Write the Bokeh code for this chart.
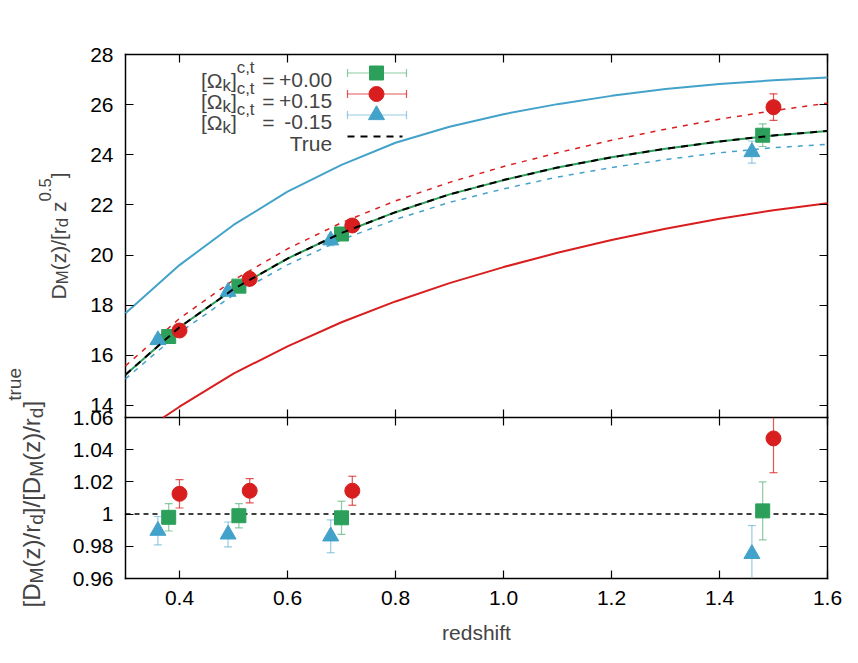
import math
from bokeh.plotting import figure
from bokeh.models import (Range1d, FixedTicker, LinearAxis, CustomJSTickFormatter, Label)
from bokeh.embed import file_html
from bokeh.resources import INLINE

# ---------------- data ----------------
z_curve = [0.3, 0.4, 0.5, 0.6, 0.7, 0.8, 0.9, 1.0, 1.1, 1.2, 1.3, 1.4, 1.5, 1.6]
true_curve = [15.23, 17.12, 18.64, 19.86, 20.88, 21.71, 22.42, 22.99, 23.49, 23.90, 24.24, 24.53, 24.77, 24.95]
fit_flat = [15.23, 17.12, 18.64, 19.86, 20.88, 21.71, 22.42, 22.99, 23.49, 23.90, 24.24, 24.53, 24.77, 24.95]
fit_pos_dashed = [15.58, 17.47, 19.00, 20.25, 21.29, 22.16, 22.90, 23.53, 24.08, 24.58, 25.02, 25.42, 25.76, 26.06]
fit_neg_dashed = [15.06, 16.91, 18.41, 19.61, 20.61, 21.42, 22.10, 22.64, 23.11, 23.49, 23.81, 24.08, 24.28, 24.42]
model_neg_solid = [17.68, 19.60, 21.20, 22.53, 23.60, 24.48, 25.12, 25.62, 26.02, 26.35, 26.62, 26.82, 26.97, 27.08]
# the lower solid curve enters the panel at z ~ 0.37
z_pos_solid = [0.37, 0.4, 0.5, 0.6, 0.7, 0.8, 0.9, 1.0, 1.1, 1.2, 1.3, 1.4, 1.5, 1.6]
model_pos_solid = [13.52, 13.95, 15.27, 16.36, 17.32, 18.15, 18.88, 19.52, 20.09, 20.60, 21.05, 21.45, 21.79, 22.07]

z_flat = [0.38, 0.51, 0.70, 1.48]
z_pos = [0.40, 0.53, 0.72, 1.50]
z_neg = [0.36, 0.49, 0.68, 1.46]

dm_flat = [16.75, 18.76, 20.84, 24.78]
dm_flat_err = [0.14, 0.14, 0.21, 0.45]
dm_pos = [16.99, 19.05, 21.18, 25.90]
dm_pos_err = [0.15, 0.14, 0.19, 0.53]
dm_neg = [16.61, 18.54, 20.59, 24.11]
dm_neg_err = [0.15, 0.14, 0.21, 0.44]

ratio_flat = [0.998, 0.999, 0.9977, 1.002]
ratio_flat_err = [0.0085, 0.0075, 0.0103, 0.018]
ratio_pos = [1.0126, 1.0145, 1.0145, 1.047]
ratio_pos_err = [0.0088, 0.0075, 0.009, 0.0213]
ratio_neg = [0.9897, 0.9874, 0.9862, 0.9753]
ratio_neg_err = [0.0088, 0.0077, 0.0102, 0.0176]
ratio_ref = 1.0

x_ticks = [0.4, 0.6, 0.8, 1.0, 1.2, 1.4, 1.6]
top_y_ticks = [14, 16, 18, 20, 22, 24, 26, 28]
bot_y_ticks = [0.96, 0.98, 1.0, 1.02, 1.04, 1.06]
legend_values = ["+0.00", "+0.15", "-0.15"]
x_title = "redshift"

# ---------------- geometry / style ----------------
FONT = "Liberation Sans"
FS = 21
FSS = 16.8
GREEN = "#2ca05a"
RED = "#d81e1e"
BLUE = "#43a2ca"

X0, X1 = 0.3, 1.6          # visible x limits of both panels
TY0, TY1 = 13.52, 28.0     # upper panel y limits
BY0, BY1 = 0.96, 1.06      # lower panel y limits
BOX_L, BOX_R = 125, 827    # page x of the panel box
BOX_T, BOX_M, BOX_B = 54, 417, 578   # page y: top, panel boundary, bottom
CANVAS_W, CANVAS_H = 845, 655

XPX = (BOX_R - BOX_L) / (X1 - X0)
TPX = (BOX_M - BOX_T) / (TY1 - TY0)
BPX = (BOX_B - BOX_M) / (BY1 - BY0)

# the drawing frame covers the whole canvas; the panel boxes are drawn inside it
x_range = Range1d(X0 - BOX_L / XPX, X1 + (CANVAS_W - BOX_R) / XPX)
y_range = Range1d(TY1 - (CANVAS_H - BOX_T) / TPX, TY1 + BOX_T / TPX)
ratio_range = Range1d(BY0 - (CANVAS_H - BOX_B) / BPX, BY0 + BOX_B / BPX)
Y_BOTTOM_LINE = TY1 - (BOX_B - BOX_T) / TPX   # bottom box edge in upper-panel units

AW = {'[': 278, ']': 278, '(': 333, ')': 333, '/': 278, ' ': 278, ',': 278, '.': 278,
      '=': 584, '+': 584, '-': 333, 'D': 722, 'M': 833, 'T': 611, 'k': 500, 'c': 500,
      't': 278, 'z': 500, 'r': 333, 'd': 556, 'u': 556, 'e': 556, '\u03a9': 768}


def tw(s, size):
    return sum(AW.get(ch, 556) for ch in s) / 1000.0 * size


def px2x(px):
    return X0 + (px - BOX_L) / XPX


def py2y(py):
    return TY1 - (py - BOX_T) / TPX


p = figure(frame_width=CANVAS_W, frame_height=CANVAS_H, output_backend="svg",
           toolbar_location=None, x_range=x_range, y_range=y_range,
           x_axis_type=None, y_axis_type=None, min_border=0)
p.extra_y_ranges = {"ratio": ratio_range}
p.grid.visible = False
p.outline_line_color = None
p.background_fill_color = "white"
p.border_fill_color = "white"


def axis(ticks, tick_in=8, tick_out=0, labels=True, **kw):
    ax = LinearAxis(ticker=FixedTicker(ticks=ticks), **kw)
    ax.major_tick_in = tick_in
    ax.major_tick_out = tick_out
    ax.minor_tick_in = 0
    ax.minor_tick_out = 0
    ax.major_tick_line_color = "black"
    ax.major_tick_line_width = 1.2
    ax.axis_line_color = None
    ax.major_label_text_font = FONT
    ax.major_label_text_font_size = f"{FS}px"
    ax.major_label_text_color = "black"
    if not labels:
        ax.major_label_text_font_size = "0px"
        ax.major_label_standoff = 0
        ax.formatter = CustomJSTickFormatter(code="return ''")
    return ax


# y axes (left: labels; right: mirrored ticks)
ax = axis(top_y_ticks, fixed_location=X0)
ax.major_label_standoff = 12
p.add_layout(ax, "left")
ax = axis(bot_y_ticks, fixed_location=X0, y_range_name="ratio")
ax.major_label_standoff = 12
ax.formatter = CustomJSTickFormatter(code="return (Math.round(tick*100)/100).toString()")
p.add_layout(ax, "left")
p.add_layout(axis(top_y_ticks, labels=False, fixed_location=X1), "right")
p.add_layout(axis(bot_y_ticks, labels=False, fixed_location=X1, y_range_name="ratio"), "right")

# x axes
ax = axis(x_ticks, fixed_location=Y_BOTTOM_LINE)
ax.formatter = CustomJSTickFormatter(code="return tick.toFixed(1)")
ax.major_label_standoff = 12
p.add_layout(ax, "below")
p.add_layout(axis(x_ticks, labels=False, fixed_location=TY1), "above")
p.add_layout(axis(x_ticks, tick_in=8, tick_out=8, labels=False, fixed_location=TY0), "above")

# x-axis title, centred under the panels
p.add_layout(Label(x=(X0 + X1) / 2, y=py2y(632), text=x_title, text_align="center",
                   text_baseline="alphabetic", text_font=FONT, text_font_size=f"{FS}px"))

# panel boxes
box = dict(line_color="black", line_width=1.5, line_cap="square")
p.segment(x0=[X0, X0, X0, X1], y0=[TY1, TY0, TY1, TY1], x1=[X1, X1, X0, X1],
          y1=[TY1, TY0, TY0, TY0], **box)
p.segment(x0=[X0, X0, X1], y0=[BY0, BY1, BY1], x1=[X1, X0, X1], y1=[BY0, BY0, BY0],
          y_range_name="ratio", **box)


def points(xs, ys, errs, lo_lim, hi_lim, color, marker, size, err_alpha, rname="default"):
    lo = [max(y - e, lo_lim) for y, e in zip(ys, errs)]
    hi = [min(y + e, hi_lim) for y, e in zip(ys, errs)]
    p.segment(x0=xs, y0=lo, x1=xs, y1=hi, line_color=color, line_alpha=err_alpha,
              line_width=1.2, y_range_name=rname)
    cx, cy = [], []
    for x, y, e in zip(xs, ys, errs):
        for v in (y - e, y + e):
            if lo_lim <= v <= hi_lim:
                cx.append(x)
                cy.append(v)
    p.scatter(x=cx, y=cy, marker="dash", size=8, line_color=color, line_alpha=err_alpha,
              line_width=1.2, y_range_name=rname)
    p.scatter(x=xs, y=ys, marker=marker, size=size, fill_color=color, line_color=color,
              y_range_name=rname)


# ---------------- upper panel ----------------
p.line(z_curve, model_neg_solid, line_color=BLUE, line_width=2)
p.line(z_pos_solid, model_pos_solid, line_color=RED, line_width=2)
p.line(z_curve, fit_pos_dashed, line_color=RED, line_width=1.5, line_dash="5 6")
p.line(z_curve, fit_neg_dashed, line_color=BLUE, line_width=1.5, line_dash="5 6")
p.line(z_curve, fit_flat, line_color=GREEN, line_width=2)

points(z_flat, dm_flat, dm_flat_err, TY0, TY1, GREEN, "square", 14, 0.55)
points(z_pos, dm_pos, dm_pos_err, TY0, TY1, RED, "circle", 15, 0.75)
points(z_neg, dm_neg, dm_neg_err, TY0, TY1, BLUE, "triangle", 16, 0.55)

p.line(z_curve, true_curve, line_color="black", line_width=2, line_dash="7 6")

# ---------------- lower panel ----------------
p.segment(x0=[X0], y0=[ratio_ref], x1=[X1], y1=[ratio_ref], line_color="black",
          line_width=1.5, line_dash="5 4", y_range_name="ratio")
points(z_flat, ratio_flat, ratio_flat_err, BY0, BY1, GREEN, "square", 14, 0.55, "ratio")
points(z_pos, ratio_pos, ratio_pos_err, BY0, BY1, RED, "circle", 15, 0.75, "ratio")
points(z_neg, ratio_neg, ratio_neg_err, BY0, BY1, BLUE, "triangle", 16, 0.55, "ratio")

# ---------------- legend ----------------
rows_y = [72.5, 93.5, 114.5, 136.0]
colors = [GREEN, RED, BLUE]
markers = ["square", "circle", "triangle"]
msizes = [14, 15, 16]
alphas = [0.55, 0.75, 0.55]
VAL_R = 331.7
EQ_L = 261.7
SUP_R = 254.0


def lab(x, y, text, size, align):
    p.add_layout(Label(x=px2x(x), y=py2y(y), text=text, text_align=align,
                       text_baseline="alphabetic", text_font=FONT, text_font_size=f"{size}px"))


for i in range(3):
    cy = rows_y[i]
    base = cy + 7
    c = colors[i]
    p.segment(x0=[px2x(347)], y0=[py2y(cy)], x1=[px2x(406)], y1=[py2y(cy)],
              line_color=c, line_alpha=alphas[i], line_width=1.2)
    p.scatter(x=[px2x(347), px2x(406)], y=[py2y(cy)] * 2, marker="dash", angle=math.pi / 2,
              size=8, line_color=c, line_alpha=alphas[i], line_width=1.2)
    p.scatter(x=[px2x(376)], y=[py2y(cy)], marker=markers[i], size=msizes[i],
              fill_color=c, line_color=c)
    lab(VAL_R, base, legend_values[i], FS, "right")
    lab(EQ_L, base, "=", FS, "left")
    r = SUP_R
    lab(r, base - 12.5, "c,t", FSS, "right")
    r -= tw("c,t", FSS)
    lab(r, base, "]", FS, "right")
    r -= tw("]", FS)
    lab(r, base + 5.5, "k", FSS, "right")
    r -= tw("k", FSS)
    lab(r, base, "[\u03a9", FS, "right")

p.segment(x0=[px2x(347)], y0=[py2y(rows_y[3])], x1=[px2x(402)], y1=[py2y(rows_y[3])],
          line_color="black", line_width=2, line_dash="7 6")
lab(VAL_R, rows_y[3] + 7, "True", FS, "right")


# ---------------- rotated y titles with sub/superscripts ----------------
def vtitle(pieces, x_base, y_start, size, small, sub_dx, sup_dx):
    y = y_start
    for text, kind, gap in pieces:
        y -= gap * size / 1000.0
        s = size if kind == "n" else small
        dx = 0 if kind == "n" else (sub_dx if kind == "sub" else -sup_dx)
        p.add_layout(Label(x=px2x(x_base + dx), y=py2y(y), text=text, angle=math.pi / 2,
                           text_align="left", text_baseline="alphabetic",
                           text_font=FONT, text_font_size=f"{s}px"))
        y -= tw(text, s)


top_title = [("D", "n", 0), ("M", "sub", 0), ("(z)/[r", "n", 0), ("d", "sub", 0),
             ("z", "n", 278), ("0.5", "sup", 0), ("]", "n", 0)]
vtitle(top_title, 58.3, 299, FS, FSS, 4, 14)

bot_title = [("[D", "n", 0), ("M", "sub", 0), ("(z)/r", "n", 0), ("d", "sub", 0),
             ("]/[D", "n", 0), ("M", "sub", 0), ("(z)/r", "n", 0), ("d", "sub", 0),
             ("]", "n", 0), ("true", "sup", 0)]
vtitle(bot_title, 31, 607, 24, 19.2, 5, 17)

open("out.html", "w").write(file_html(p, INLINE))
